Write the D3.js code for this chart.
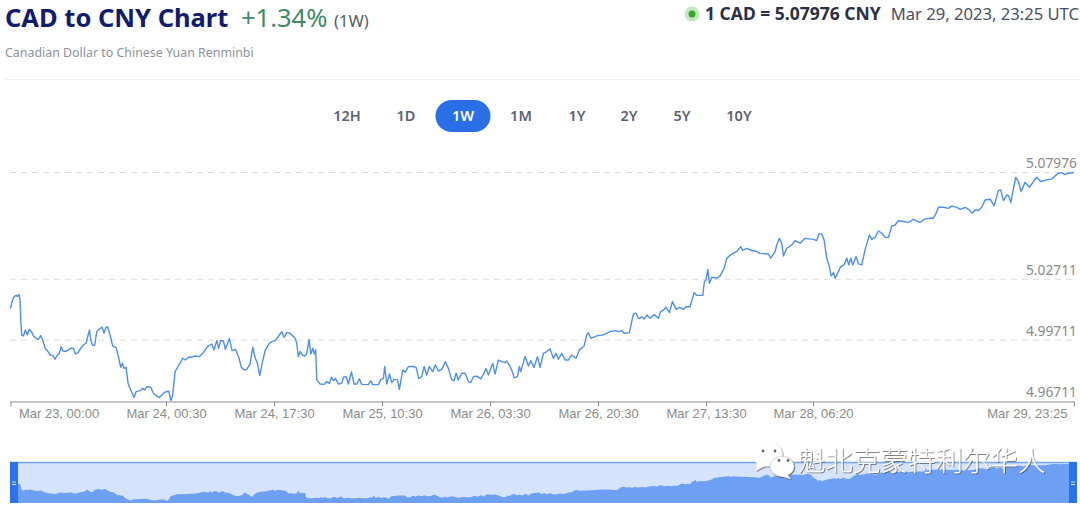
<!DOCTYPE html>
<html>
<head>
<meta charset="utf-8">
<script src="https://cdn.jsdelivr.net/npm/d3@7"></script>
<style>
  html, body { margin: 0; padding: 0; background: #fff; }
  svg { display: block; font-family: "Noto Sans", "Open Sans", sans-serif; }
</style>
</head>
<body>
<svg id="chart" width="1080" height="510"></svg>
<script>
// CAD/CNY exchange rate, one week ending Mar 29, 2023 23:25 UTC.
const hoursSinceStart = [
  0,.26,.58,.89,1.1,1.36,1.52,1.63,1.78,2.05,2.36,2.68,2.99,3.31,3.62,4.04,4.41,4.77,5.09,5.46,5.82,6.24,6.66,7.03,7.4,7.71,7.98,8.24,8.66,9.13,9.5,9.92,10.23,10.65,11.07,11.49,11.91,12.17,12.44,12.65,12.96,13.27,13.59,14.01,14.43,14.74,15.06,15.32,15.69,16.11,16.63,17,17.37,17.63,17.89,18.21,18.52,18.94,19.47,19.78,20.41,20.83,21.15,21.46,22.09,22.51,23.03,23.45,23.98,24.5,24.92,25.29,25.55,25.92,26.45,27.13,27.55,28.02,28.54,29.07,29.75,30.38,31.01,31.69,32.06,32.48,32.79,33.11,33.53,33.84,34.47,34.89,35.42,35.94,36.36,36.78,37.2,37.73,38.15,38.46,38.88,39.25,39.62,40.09,40.77,41.14,41.66,42.19,42.71,43.08,43.5,44.02,44.81,45.07,45.33,45.6,45.96,46.38,46.65,47.01,47.28,47.59,47.85,48.06,48.22,48.74,49.37,49.79,
  50.21,50.53,50.84,51.16,51.63,52.16,52.42,52.84,53.2,53.68,54.1,54.52,54.93,55.3,56.35,56.72,57.03,57.93,58.29,58.71,58.92,59.24,59.66,60.03,60.39,60.92,61.23,61.76,62.13,62.65,63.44,63.86,64.28,64.75,65.11,65.53,65.95,66.48,66.89,67.37,67.9,68.47,68.94,69.47,69.84,70.15,70.52,71.04,71.57,72.09,72.46,72.88,73.4,74.03,74.56,74.87,75.24,75.92,76.29,76.81,77.34,77.86,78.13,78.49,78.91,79.33,79.81,80.12,80.33,81.01,81.54,81.9,82.43,82.96,83.37,83.9,84.42,84.95,85.47,85.89,86.26,86.78,87.31,87.83,88.36,89.04,89.57,90.3,90.72,90.98,91.35,92.29,93.34,94.39,95.18,95.7,96.23,96.6,97.43,97.8,98.06,98.48,98.85,99.12,
  99.38,99.75,100.17,100.69,101.32,102,102.37,102.79,103.21,103.73,104.2,104.78,105.3,105.94,106.35,106.98,107.62,108.03,108.98,109.24,109.5,109.77,110.03,110.4,111.19,111.71,112.34,112.76,113.55,114.33,114.96,115.27,115.9,116.69,117.48,118,119.31,119.68,120.36,120.63,121.05,121.41,121.68,122.2,122.99,123.51,124.3,125.09,126.4,126.92,127.29,127.71,128.08,128.5,128.92,129.18,129.55,129.81,130.33,130.7,131.23,131.65,131.96,132.28,132.59,133.12,133.49,134.01,134.53,135.22,135.58,136.11,136.63,137.16,137.68,138.21,138.73,139.26,139.78,140.57,141.36,142.14,143.19,143.98,144.77,145.29,145.71,146.08,146.87,147.65,148.18,148.96,149.49,150.28,150.96,151.38,151.85,152.37,152.9,153.42,154.21,154.84,155.52,155.89,156.31,156.84,157.1,157.47,157.89,158.25,158.67,159.09,159.72,160.4,161.03,161.56,162.19,163.13,163.92,164.44,164.97,165.49,166.02,166.54,167.42
];
const rates = [
  5.0128,5.0161,5.0186,5.0192,5.0186,5.0196,5.0169,5.0071,4.9997,4.9992,5.0021,4.9997,5.0025,5.0013,4.9992,4.9980,4.9975,4.9993,4.9972,4.9931,4.9919,4.9898,4.9896,4.9877,4.9898,4.9906,4.9939,4.9919,4.9915,4.9923,4.9931,4.9931,4.9903,4.9910,4.9931,4.9947,4.9956,4.9989,5.0021,4.9972,4.9944,4.9947,5.0013,5.0026,5.0035,5.0005,5.0035,5.0036,4.9997,4.9942,4.9934,4.9890,4.9837,4.9857,4.9832,4.9837,4.9758,4.9725,4.9689,4.9717,4.9722,4.9734,4.9725,4.9742,4.9739,4.9709,4.9696,4.9688,4.9706,4.9717,4.9719,4.9673,4.9701,4.9816,4.9844,4.9882,4.9873,4.9887,4.9887,4.9893,4.9890,4.9910,4.9939,4.9952,4.9923,4.9969,4.9931,4.9969,4.9967,4.9926,4.9979,4.9919,4.9926,4.9887,4.9837,4.9824,4.9827,4.9854,4.9936,4.9890,4.9857,4.9796,4.9857,4.9919,4.9956,4.9964,4.9969,4.9989,5.0013,4.9985,5.0008,5.0005,4.9980,4.9956,4.9890,4.9915,4.9898,4.9893,4.9906,4.9975,4.9903,4.9931,4.9903,4.9923,4.9775,4.9755,4.9753,4.9767,
  4.9758,4.9788,4.9771,4.9783,4.9755,4.9758,4.9788,4.9791,4.9755,4.9814,4.9755,4.9755,4.9781,4.9753,4.9752,4.9771,4.9752,4.9752,4.9775,4.9783,4.9841,4.9755,4.9804,4.9762,4.9778,4.9775,4.9729,4.9824,4.9813,4.9841,4.9841,4.9837,4.9781,4.9791,4.9841,4.9799,4.9841,4.9816,4.9849,4.9819,4.9827,4.9865,4.9832,4.9775,4.9771,4.9808,4.9775,4.9808,4.9808,4.9767,4.9762,4.9791,4.9794,4.9780,4.9808,4.9831,4.9799,4.9857,4.9804,4.9873,4.9865,4.9860,4.9868,4.9849,4.9824,4.9785,4.9791,4.9841,4.9816,4.9890,4.9844,4.9870,4.9837,4.9890,4.9837,4.9906,4.9915,4.9928,4.9882,4.9906,4.9877,4.9906,4.9873,4.9873,4.9898,4.9882,4.9923,4.9942,4.9997,5.0008,4.9980,4.9992,4.9997,5.0013,5.0018,5.0013,5.0018,5.0005,5.0008,5.0062,5.0100,5.0104,5.0079,5.0079,
  5.0087,5.0075,5.0095,5.0079,5.0097,5.0079,5.0112,5.0120,5.0133,5.0107,5.0161,5.0123,5.0133,5.0123,5.0136,5.0136,5.0205,5.0192,5.0192,5.0260,5.0268,5.0320,5.0251,5.0281,5.0276,5.0288,5.0325,5.0375,5.0396,5.0408,5.0432,5.0413,5.0424,5.0413,5.0408,5.0399,5.0396,5.0375,5.0408,5.0440,5.0473,5.0449,5.0386,5.0424,5.0440,5.0462,5.0449,5.0473,5.0468,5.0462,5.0495,5.0495,5.0465,5.0375,5.0334,5.0288,5.0304,5.0276,5.0309,5.0334,5.0342,5.0375,5.0342,5.0375,5.0342,5.0383,5.0347,5.0342,5.0416,5.0490,5.0468,5.0478,5.0509,5.0498,5.0478,5.0478,5.0534,5.0539,5.0560,5.0556,5.0552,5.0567,5.0551,5.0569,5.0572,5.0572,5.0597,5.0626,5.0626,5.0621,5.0633,5.0626,5.0616,5.0626,5.0613,5.0597,5.0613,5.0610,5.0626,5.0662,5.0666,5.0633,5.0708,5.0712,5.0659,5.0687,5.0684,5.0649,5.0720,5.0773,5.0753,5.0704,5.0749,5.0725,5.0753,5.0774,5.0753,5.0761,5.0766,5.0781,5.0794,5.0797,5.0787,5.0794,5.07976
];
const rateTicks = [4.96711, 4.99711, 5.02711, 5.07976];
const timeTicks = [
  "2023-03-23T00:00Z", "2023-03-24T00:30Z", "2023-03-24T17:30Z", "2023-03-25T10:30Z",
  "2023-03-26T03:30Z", "2023-03-26T20:30Z", "2023-03-27T13:30Z", "2023-03-28T06:20Z",
  "2023-03-29T23:25Z"
];
const ranges = ["12H", "1D", "1W", "1M", "1Y", "2Y", "5Y", "10Y"];
const activeRange = "1W";

const startMs = Date.parse("2023-03-23T00:00Z");
const endMs = Date.parse("2023-03-29T23:25Z");
const series = hoursSinceStart.map((h, i) => ({ t: new Date(startMs + h * 3.6e6), v: rates[i] }));
const tickDates = timeTicks.map(d => new Date(d));
const fmtTick = d3.utcFormat("%b %d, %H:%M");

const svg = d3.select("#chart");

// Header
const title = svg.append("g");
title.append("text").attr("x", 5).attr("y", 27).attr("font-size", 25.5).attr("font-weight", 700)
  .attr("fill", "#121c6e").text("CAD to CNY Chart");
title.append("text").attr("x", 241).attr("y", 27).attr("font-size", 25.5)
  .attr("fill", "#3d8b6a").text("+1.34%");
title.append("text").attr("x", 334).attr("y", 27).attr("font-size", 16.5)
  .attr("fill", "#555b6b").text("(1W)");
title.append("text").attr("x", 5).attr("y", 57).attr("font-size", 12.4)
  .attr("fill", "#8d91a0").text("Canadian Dollar to Chinese Yuan Renminbi");

svg.append("circle").attr("cx", 692).attr("cy", 14).attr("r", 7.5).attr("fill", "#c4e8bf");
svg.append("circle").attr("cx", 692).attr("cy", 14).attr("r", 3.5).attr("fill", "#33a82c");
svg.append("text").attr("x", 705).attr("y", 20).attr("font-size", 17.5).attr("font-weight", 700)
  .attr("fill", "#2a3045").text("1 CAD = 5.07976 CNY");
svg.append("text").attr("x", 1079).attr("y", 20).attr("font-size", 16.6).attr("text-anchor", "end")
  .attr("fill", "#4a5064").text("Mar 29, 2023, 23:25 UTC");

svg.append("line").attr("x1", 5).attr("x2", 1080).attr("y1", 79.5).attr("y2", 79.5)
  .attr("stroke", "#f1f1f3");

// Range selector
const rangeX = d3.scaleOrdinal().domain(ranges).range([347, 406, 463, 521, 577, 629, 682, 739]);
svg.append("rect").attr("x", rangeX(activeRange) - 27.5).attr("y", 100).attr("width", 55).attr("height", 32)
  .attr("rx", 16).attr("fill", "#2a6fe6");
svg.selectAll("text.range").data(ranges).join("text").attr("class", "range")
  .attr("x", d => rangeX(d)).attr("y", 121).attr("text-anchor", "middle")
  .attr("font-size", 14.5).attr("font-weight", 600)
  .attr("fill", d => d === activeRange ? "#fff" : "#5b6173").text(d => d);

// Main plot
const x = d3.scaleTime().domain([startMs, endMs]).range([10.4, 1074]);
const y = d3.scaleLinear().domain([4.96711, 5.07976]).range([401, 172.5]);

svg.selectAll("line.grid").data(rateTicks.slice(1)).join("line").attr("class", "grid")
  .attr("x1", 10).attr("x2", 1074).attr("y1", d => y(d)).attr("y2", d => y(d))
  .attr("stroke", "#dcdcdc").attr("stroke-width", 1).attr("stroke-dasharray", "6 5");

svg.selectAll("text.rate").data(rateTicks).join("text").attr("class", "rate")
  .attr("x", 1077).attr("y", d => y(d) - 4.5).attr("text-anchor", "end")
  .attr("font-size", 13.8).attr("fill", "#8a8a8a").text(d => d3.format(".5f")(d));

svg.append("path").datum(series).attr("fill", "none").attr("stroke", "#4d8ef5").attr("stroke-width", 1.4)
  .attr("stroke-linejoin", "round")
  .attr("d", d3.line().x(d => x(d.t)).y(d => y(d.v)));

// Time axis
const axis = svg.append("g").attr("transform", "translate(0,401.5)")
  .call(d3.axisBottom(x).tickValues(tickDates).tickFormat(fmtTick).tickSize(5).tickSizeOuter(0));
axis.select(".domain").attr("stroke", "#8a8a8a");
axis.selectAll(".tick line").attr("stroke", "#8a8a8a");
axis.selectAll(".tick text").attr("fill", "#8a8a8a").attr("font-size", 13)
  .attr("font-family", "inherit").attr("y", 7).attr("dy", "0.71em")
  .attr("text-anchor", (d, i, n) => i === 0 ? "start" : i === n.length - 1 ? "end" : "middle")
  .attr("dx", (d, i, n) => i === 0 ? 8 : i === n.length - 1 ? -7 : 0);

// Range navigator below the plot
const navLeft = 10, navRight = 1077, navTop = 462, navBottom = 503, handleW = 8;
const hoursAt = h => startMs + h * 3.6e6;
const navX = d3.scaleTime()
  .domain([hoursAt(0), hoursAt(25.5), hoursAt(48.2), hoursAt(129.8), hoursAt(167.42)])
  .range([11, 168, 306, 822, 1069]);
const navY = d3.scaleLinear().domain([4.96711, 5.07976]).range([501, 464]);

svg.append("rect").attr("x", navLeft).attr("y", navTop).attr("width", navRight - navLeft)
  .attr("height", navBottom - navTop).attr("fill", "#d5e3fc");
svg.append("path").datum(series).attr("fill", "#6d9ff3")
  .attr("d", d3.area().x(d => navX(d.t)).y0(navBottom).y1(d => navY(d.v)));
svg.append("line").attr("x1", navLeft).attr("x2", navRight).attr("y1", navTop + .5).attr("y2", navTop + .5)
  .attr("stroke", "#6fa5f6").attr("stroke-width", 1.5);

const handles = svg.selectAll("g.handle").data([navLeft, navRight - handleW]).join("g").attr("class", "handle");
handles.append("rect").attr("x", d => d).attr("y", navTop).attr("width", handleW)
  .attr("height", navBottom - navTop).attr("fill", "#2a72ee");
handles.selectAll("line").data(d => [d, d].map((v, i) => ({ v, i }))).join("line")
  .attr("x1", d => d.v + 2).attr("x2", d => d.v + handleW - 2)
  .attr("y1", d => 482 + d.i * 2.5).attr("y2", d => 482 + d.i * 2.5)
  .attr("stroke", "#cfe0fb").attr("stroke-width", 1);

// Account badge laid over the navigator
const defs = svg.append("defs");
const shadow = defs.append("filter").attr("id", "badgeShadow")
  .attr("x", "-10%").attr("y", "-10%").attr("width", "120%").attr("height", "130%");
shadow.append("feDropShadow").attr("dx", 0.8).attr("dy", 0.8).attr("stdDeviation", 0.6)
  .attr("flood-color", "#333").attr("flood-opacity", 0.75);

const badge = svg.append("g").attr("filter", "url(#badgeShadow)");
badge.append("ellipse").attr("cx", 767).attr("cy", 454).attr("rx", 15.5).attr("ry", 12.5).attr("fill", "#fff");
badge.append("path").attr("d", "M757 462 L756 471 L767 465 Z").attr("fill", "#fff");
badge.append("ellipse").attr("cx", 782).attr("cy", 466.5).attr("rx", 12).attr("ry", 10).attr("fill", "#fff")
  .attr("stroke", "#bbb").attr("stroke-width", 0.6);
badge.append("path").attr("d", "M786 473 L791 479 L780 476 Z").attr("fill", "#fff");
const eyes = [[763, 451], [775, 451], [779, 460.5], [788, 460.5]];
svg.selectAll("circle.eye").data(eyes).join("circle").attr("class", "eye")
  .attr("cx", d => d[0]).attr("cy", d => d[1]).attr("r", 1.4).attr("fill", "#666");
badge.append("text").attr("x", 798).attr("y", 471).attr("font-size", 27.5).attr("font-weight", 300)
  .attr("font-family", '"Noto Sans CJK SC", sans-serif').attr("fill", "#fff").text("魁北克蒙特利尔华人");
</script>
</body>
</html>
